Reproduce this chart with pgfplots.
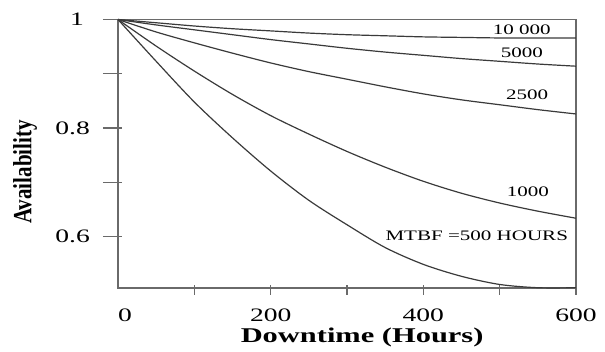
\documentclass[border=0pt]{standalone}
\usepackage{fontspec}
\setmainfont{Liberation Serif}
\usepackage{pgfplots}
\usepackage{pgfplotstable}
\pgfplotsset{compat=1.18}
\usepackage{graphicx}
\definecolor{curve}{HTML}{3A3A3A}
\definecolor{axisgray}{HTML}{6A6A6A}
\newcommand{\tl}[1]{\scalebox{1.45}[1]{\fontsize{19}{19}\selectfont #1}}
\newcommand{\cl}[1]{\scalebox{1.45}[1]{\fontsize{14.5}{14.5}\selectfont #1}}

\pgfplotstableread{
h    a10000 a5000 a2500 a1000 a500
0    1.000  1.000 1.000 1.000 1.000
50   0.994  0.990 0.977 0.951 0.923
100  0.988  0.981 0.957 0.905 0.848
150  0.983  0.972 0.938 0.862 0.782
200  0.979  0.963 0.920 0.823 0.721
250  0.975  0.955 0.904 0.789 0.667
300  0.972  0.947 0.890 0.757 0.622
350  0.970  0.940 0.876 0.728 0.580
400  0.968  0.934 0.863 0.702 0.549
450  0.967  0.928 0.852 0.680 0.527
500  0.966  0.923 0.843 0.662 0.512
550  0.966  0.918 0.834 0.647 0.506
600  0.966  0.914 0.826 0.634 0.506
}\avail

\begin{document}
\begin{tikzpicture}
\begin{axis}[
  name=ax, at={(0,0)}, anchor=south west,
  scale only axis, width=458pt, height=268.5pt,
  xmin=0, xmax=600, ymin=0.5055, ymax=1,
  clip=false,
  axis line style={axisgray, line width=1.6pt},
  tick pos=left,
  tick align=center,
  major tick length=19pt,
  minor tick length=10pt,
  xtick={0,200,400,600},
  xticklabels={,,,},
  minor xtick={100,200,300,400,500,600},
  every major x tick/.append style={draw=none},
  every minor x tick/.append style={yshift=-2pt, axisgray, line width=1.4pt},
  ytick={0.6,0.7,0.8,0.9,1},
  yticklabels={,,,,},
  every major y tick/.append style={xshift=-5.5pt, axisgray, line width=1.4pt},
  xlabel={\scalebox{1.45}[1]{\fontsize{21}{21}\selectfont\bfseries Downtime (Hours)}},
  xlabel style={at={(rel axis cs:0.533,-0.186)}, anchor=center},
  ylabel={\scalebox{1}[1.25]{\fontsize{21}{21}\selectfont\bfseries Availability}},
  ylabel style={at={(rel axis cs:-0.203,0.432)}, anchor=center},
]
\addplot[curve, line width=1.2pt, smooth] table[x=h, y=a10000] {\avail};
\addplot[curve, line width=1.2pt, smooth] table[x=h, y=a5000] {\avail};
\addplot[curve, line width=1.2pt, smooth] table[x=h, y=a2500] {\avail};
\addplot[curve, line width=1.2pt, smooth] table[x=h, y=a1000] {\avail};
\addplot[curve, line width=1.2pt, smooth] table[x=h, y=a500] {\avail};
% tick labels
\node at ([xshift=7pt,yshift=-27pt]axis cs:0,0.5055) {\tl{0}};
\node at ([yshift=-27pt]axis cs:200,0.5055) {\tl{200}};
\node at ([yshift=-27pt]axis cs:400,0.5055) {\tl{400}};
\node at ([yshift=-27pt]axis cs:600,0.5055) {\tl{600}};
\node[anchor=east, inner sep=0pt] at ([xshift=-28pt]axis cs:0,0.6) {\tl{0.6}};
\node[anchor=east, inner sep=0pt] at ([xshift=-28pt]axis cs:0,0.8) {\tl{0.8}};
\node[anchor=east, inner sep=0pt] at ([xshift=-34pt]axis cs:0,1) {\tl{1}};
% curve labels
\node at (axis cs:529,0.9807) {\cl{10~000}};
\node at (axis cs:529,0.938) {\cl{5000}};
\node at (axis cs:536,0.861) {\cl{2500}};
\node at (axis cs:537,0.682) {\cl{1000}};
\node at (axis cs:470,0.602) {\cl{MTBF =500 HOURS}};
\end{axis}
\pgfresetboundingbox
\path[use as bounding box] (-118pt,-64pt) rectangle (487pt,288pt);
\end{tikzpicture}
\end{document}
